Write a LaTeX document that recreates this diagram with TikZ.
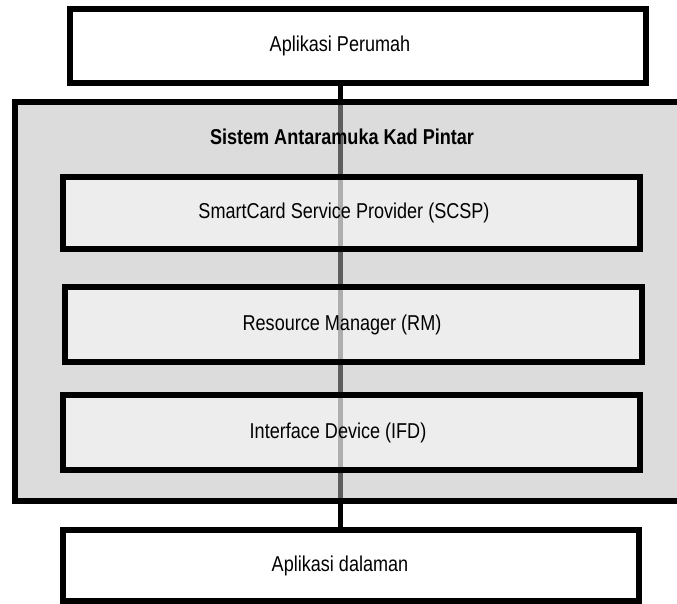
\documentclass[tikz,border=0pt]{standalone}
\usepackage{fontspec}
\setmainfont{Liberation Sans}[FakeStretch=0.84]
\usepackage{tikz}
\usetikzlibrary{positioning, backgrounds}

\begin{document}
\begin{tikzpicture}[
    x=1pt, y=-1pt,
    appbox/.style={rectangle, draw, line width=5.5pt, fill=white, inner sep=0pt, outer sep=0pt},
    layerbox/.style={rectangle, draw, line width=5.5pt, fill=white, fill opacity=0.5, inner sep=0pt, outer sep=0pt},
    sysbox/.style={rectangle, draw, line width=5.5pt, fill=black!27, fill opacity=0.51, inner sep=0pt, outer sep=0pt},
    boxtext/.style={font=\fontsize{21.5}{24}\selectfont, inner sep=0pt},
    link/.style={line width=5pt}
]
\useasboundingbox (0,0) rectangle (677,604);
\clip (0,0) rectangle (677,604);

% Outer system box
\node[sysbox, minimum width=675pt, minimum height=399pt] (sys) at (352.5,301.5) {};
\node[font=\fontsize{21.5}{24}\selectfont\bfseries] (title) at (342,137) {Sistem Antaramuka Kad Pintar};

% Applications
\node[appbox, minimum width=576pt, minimum height=74pt] (host) at (358,46) {};
\node[appbox, minimum width=576pt, minimum height=71pt] (inner) at (351,565.5) {};
\node[boxtext] (hosttext) at (340,46) {Aplikasi Perumah};
\node[boxtext] (innertext) at (340,565.5) {Aplikasi dalaman};

% Layers
\node[layerbox, minimum width=577pt, minimum height=72pt] (scsp) at (351.5,213) {};
\node[layerbox, minimum width=577pt, minimum height=75pt] (rm) at (353.5,324.5) {};
\node[layerbox, minimum width=577pt, minimum height=75pt] (ifd) at (351.5,432.5) {};
\node[boxtext] (scsptext) at (344,213) {SmartCard Service Provider (SCSP)};
\node[boxtext] (rmtext) at (342,324.5) {Resource Manager (RM)};
\node[boxtext] (ifdtext) at (338,432.5) {Interface Device (IFD)};

% Connector behind everything
\begin{pgfonlayer}{background}
\draw[link] (host.south -| hosttext) -- (inner.north -| innertext);
\end{pgfonlayer}
\end{tikzpicture}
\end{document}
